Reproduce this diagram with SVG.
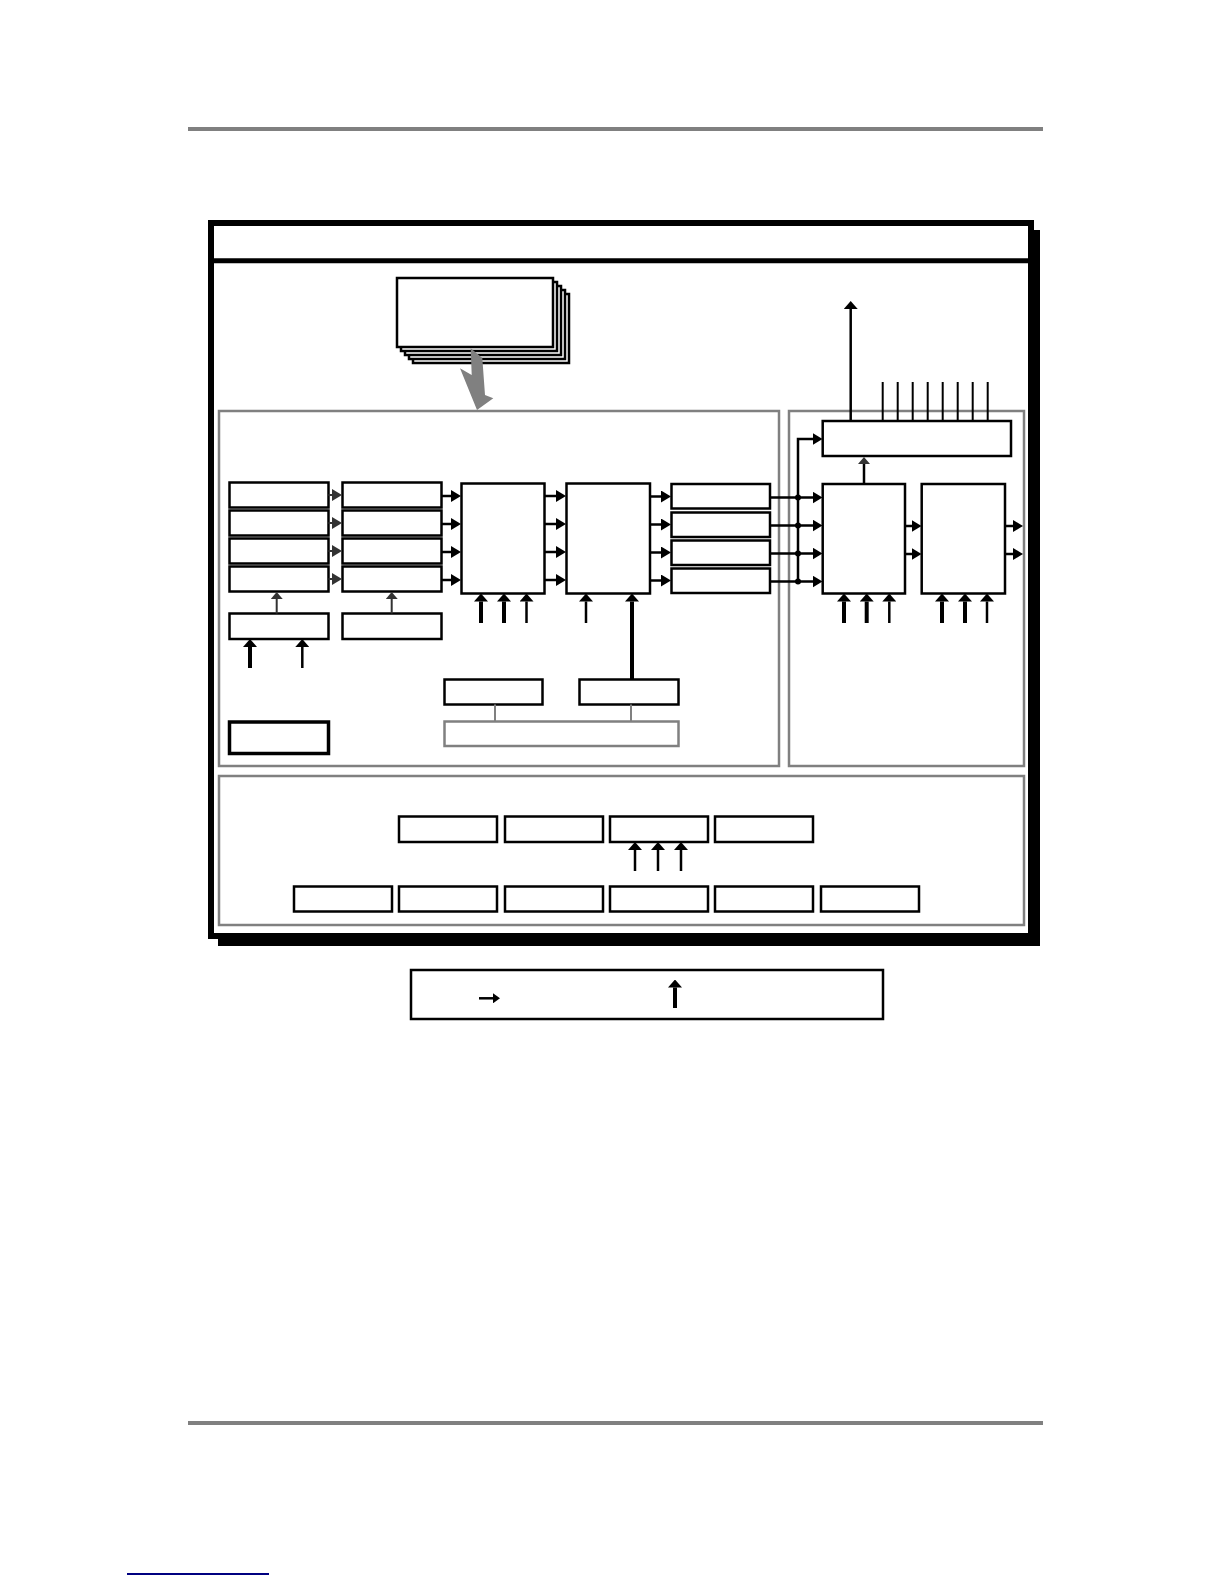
<svg xmlns="http://www.w3.org/2000/svg" width="1224" height="1584" viewBox="0 0 1224 1584">
<style>
.box{fill:#fff;stroke:#000;stroke-width:2.5}
.panel{fill:none;stroke:#808080;stroke-width:2.5}
.ln{fill:none;stroke:#000;stroke-width:2.5}
.lng{fill:none;stroke:#333;stroke-width:2}
.thk{fill:none;stroke:#000;stroke-width:4}
.gl{fill:none;stroke:#808080;stroke-width:2}
</style>
<defs>
<marker id="mh" viewBox="0 0 10 10" refX="1" refY="5" markerWidth="10" markerHeight="12" markerUnits="userSpaceOnUse" orient="auto" preserveAspectRatio="none"><path d="M0,0 L10,5 L0,10 Z" fill="#000"/></marker>
<marker id="mhg" viewBox="0 0 10 10" refX="1" refY="5" markerWidth="10" markerHeight="12" markerUnits="userSpaceOnUse" orient="auto" preserveAspectRatio="none"><path d="M0,0 L10,5 L0,10 Z" fill="#333"/></marker>
<marker id="mu" viewBox="0 0 10 10" refX="0" refY="5" markerWidth="8" markerHeight="14" markerUnits="userSpaceOnUse" orient="auto" preserveAspectRatio="none"><path d="M0,0 L10,5 L0,10 Z" fill="#000"/></marker>
<marker id="mus" viewBox="0 0 10 10" refX="0" refY="5" markerWidth="7" markerHeight="12" markerUnits="userSpaceOnUse" orient="auto" preserveAspectRatio="none"><path d="M0,0 L10,5 L0,10 Z" fill="#333"/></marker>
<marker id="ms" viewBox="0 0 10 10" refX="0" refY="5" markerWidth="7" markerHeight="10" markerUnits="userSpaceOnUse" orient="auto" preserveAspectRatio="none"><path d="M0,0 L10,5 L0,10 Z" fill="#000"/></marker>
</defs>
<rect width="1224" height="1584" fill="#fff"/>
<!-- page rules -->
<rect x="188" y="127" width="855" height="4" fill="#808080"/>
<rect x="188" y="1421" width="855" height="4" fill="#808080"/>
<rect x="127" y="1573" width="142" height="2" fill="#000080"/>
<!-- outer frame -->
<g id="frame">
<rect x="218" y="230" width="822" height="716" fill="#000"/>
<rect x="211" y="223" width="820" height="713" fill="#fff" stroke="#000" stroke-width="6"/>
<line x1="211" y1="260.8" x2="1031" y2="260.8" stroke="#000" stroke-width="5"/>
</g>
<!-- stacked cards -->
<g id="cards">
<rect class="box" x="413" y="294" width="156" height="69" stroke-width="2"/>
<rect class="box" x="409" y="290" width="156" height="69" stroke-width="2"/>
<rect class="box" x="405" y="286" width="156" height="69" stroke-width="2"/>
<rect class="box" x="401" y="282" width="156" height="69" stroke-width="2"/>
<rect class="box" x="397" y="278" width="156" height="69" stroke-width="2"/>
</g>
<g id="grey-arrow">
<polygon points="470.7,348.3 482.3,358 485,395 493.3,398.3 477,410 460,368.3 471.7,375" fill="#808080"/>
</g>
<!-- panels -->
<g id="panel-left"><rect class="panel" x="219" y="411" width="560" height="355"/></g>
<g id="panel-right"><rect class="panel" x="789" y="411" width="235" height="355"/></g>
<g id="panel-bottom"><rect class="panel" x="219" y="776" width="805" height="149"/></g>
<!-- left panel nodes -->
<g id="c1r1"><rect class="box" x="229.5" y="482.5" width="99" height="25"/></g>
<g id="c1r2"><rect class="box" x="229.5" y="510.5" width="99" height="25"/></g>
<g id="c1r3"><rect class="box" x="229.5" y="538.5" width="99" height="25"/></g>
<g id="c1r4"><rect class="box" x="229.5" y="566.5" width="99" height="25"/></g>
<g id="c2r1"><rect class="box" x="342.5" y="482.5" width="99" height="25"/></g>
<g id="c2r2"><rect class="box" x="342.5" y="510.5" width="99" height="25"/></g>
<g id="c2r3"><rect class="box" x="342.5" y="538.5" width="99" height="25"/></g>
<g id="c2r4"><rect class="box" x="342.5" y="566.5" width="99" height="25"/></g>
<g id="c1low"><rect class="box" x="229.5" y="613.5" width="99" height="25.5"/></g>
<g id="c2low"><rect class="box" x="342.5" y="613.5" width="99" height="25.5"/></g>
<g id="box1"><rect class="box" x="461.5" y="483.5" width="83" height="110"/></g>
<g id="box2"><rect class="box" x="566.5" y="483.5" width="83.5" height="110"/></g>
<g id="c3r1"><rect class="box" x="671.5" y="484" width="98.5" height="24.5"/></g>
<g id="c3r2"><rect class="box" x="671.5" y="512.5" width="98.5" height="24.5"/></g>
<g id="c3r3"><rect class="box" x="671.5" y="540.5" width="98.5" height="24.5"/></g>
<g id="c3r4"><rect class="box" x="671.5" y="568.5" width="98.5" height="24.5"/></g>
<g id="boxA"><rect class="box" x="444.5" y="679.5" width="98" height="25"/></g>
<g id="boxB"><rect class="box" x="579.5" y="679.5" width="99" height="25"/></g>
<g id="greybox"><rect x="444.5" y="721.5" width="234" height="24.5" fill="#fff" stroke="#808080" stroke-width="2.5"/></g>
<g id="thickbox"><rect x="229.5" y="722" width="99" height="31.5" fill="#fff" stroke="#000" stroke-width="3.5"/></g>
<!-- right panel nodes -->
<g id="topbox"><rect class="box" x="822.7" y="421" width="188.3" height="35"/></g>
<g id="box3"><rect class="box" x="822.7" y="484" width="82.3" height="109.5"/></g>
<g id="box4"><rect class="box" x="921.7" y="484" width="83.3" height="109.5"/></g>
<!-- bottom panel nodes -->
<g id="b1"><rect class="box" x="399" y="816.5" width="98" height="25.5"/></g>
<g id="b2"><rect class="box" x="505" y="816.5" width="98" height="25.5"/></g>
<g id="b3"><rect class="box" x="610" y="816.5" width="98" height="25.5"/></g>
<g id="b4"><rect class="box" x="715" y="816.5" width="98" height="25.5"/></g>
<g id="d1"><rect class="box" x="294" y="886.5" width="98" height="25"/></g>
<g id="d2"><rect class="box" x="399" y="886.5" width="98" height="25"/></g>
<g id="d3"><rect class="box" x="505" y="886.5" width="98" height="25"/></g>
<g id="d4"><rect class="box" x="610" y="886.5" width="98" height="25"/></g>
<g id="d5"><rect class="box" x="715" y="886.5" width="98" height="25"/></g>
<g id="d6"><rect class="box" x="821" y="886.5" width="98" height="25"/></g>
<!-- legend -->
<g id="legend"><rect class="box" x="411" y="970" width="472" height="49"/></g>
<!-- connectors -->
<g id="connectors">
<line class="lng" x1="328.5" y1="495" x2="333" y2="495" marker-end="url(#mhg)"/>
<line class="lng" x1="328.5" y1="523" x2="333" y2="523" marker-end="url(#mhg)"/>
<line class="lng" x1="328.5" y1="551" x2="333" y2="551" marker-end="url(#mhg)"/>
<line class="lng" x1="328.5" y1="579" x2="333" y2="579" marker-end="url(#mhg)"/>
<line class="ln" x1="441.5" y1="496" x2="452" y2="496" marker-end="url(#mh)"/>
<line class="ln" x1="441.5" y1="524" x2="452" y2="524" marker-end="url(#mh)"/>
<line class="ln" x1="441.5" y1="552" x2="452" y2="552" marker-end="url(#mh)"/>
<line class="ln" x1="441.5" y1="580" x2="452" y2="580" marker-end="url(#mh)"/>
<line class="ln" x1="544.5" y1="496" x2="557" y2="496" marker-end="url(#mh)"/>
<line class="ln" x1="544.5" y1="524" x2="557" y2="524" marker-end="url(#mh)"/>
<line class="ln" x1="544.5" y1="552" x2="557" y2="552" marker-end="url(#mh)"/>
<line class="ln" x1="544.5" y1="580" x2="557" y2="580" marker-end="url(#mh)"/>
<line class="ln" x1="650" y1="496.5" x2="662" y2="496.5" marker-end="url(#mh)"/>
<line class="ln" x1="650" y1="524.5" x2="662" y2="524.5" marker-end="url(#mh)"/>
<line class="ln" x1="650" y1="552.5" x2="662" y2="552.5" marker-end="url(#mh)"/>
<line class="ln" x1="650" y1="580.5" x2="662" y2="580.5" marker-end="url(#mh)"/>
<line class="ln" x1="770" y1="497.5" x2="813.5" y2="497.5" marker-end="url(#mh)"/>
<line class="ln" x1="770" y1="525.5" x2="813.5" y2="525.5" marker-end="url(#mh)"/>
<line class="ln" x1="770" y1="553.5" x2="813.5" y2="553.5" marker-end="url(#mh)"/>
<line class="ln" x1="770" y1="581.5" x2="813.5" y2="581.5" marker-end="url(#mh)"/>
<path class="ln" d="M798,581.5 V439 H813.5" marker-end="url(#mh)"/>
<circle cx="798" cy="497.5" r="3"/>
<circle cx="798" cy="525.5" r="3"/>
<circle cx="798" cy="553.5" r="3"/>
<circle cx="798" cy="581.5" r="3"/>
<line class="ln" x1="864" y1="484" x2="864" y2="464" marker-end="url(#mus)"/>
<line class="ln" x1="905" y1="526" x2="912.5" y2="526" marker-end="url(#mh)"/>
<line class="ln" x1="905" y1="554" x2="912.5" y2="554" marker-end="url(#mh)"/>
<line class="ln" x1="1005" y1="526" x2="1014" y2="526" marker-end="url(#mh)"/>
<line class="ln" x1="1005" y1="554" x2="1014" y2="554" marker-end="url(#mh)"/>
<line class="ln" x1="850.7" y1="421" x2="850.7" y2="309" marker-end="url(#mu)"/>
<g fill="none" stroke="#000" stroke-width="2">
<line x1="882.7" y1="382" x2="882.7" y2="421"/>
<line x1="897.7" y1="382" x2="897.7" y2="421"/>
<line x1="912.7" y1="382" x2="912.7" y2="421"/>
<line x1="927.7" y1="382" x2="927.7" y2="421"/>
<line x1="942.7" y1="382" x2="942.7" y2="421"/>
<line x1="957.7" y1="382" x2="957.7" y2="421"/>
<line x1="972.7" y1="382" x2="972.7" y2="421"/>
<line x1="987.7" y1="382" x2="987.7" y2="421"/>
</g>
<line class="thk" x1="481" y1="623" x2="481" y2="601.5" marker-end="url(#mu)"/>
<line class="thk" x1="504" y1="623" x2="504" y2="601.5" marker-end="url(#mu)"/>
<line class="ln" x1="526.5" y1="623" x2="526.5" y2="601.5" marker-end="url(#mu)"/>
<line class="ln" x1="586" y1="623" x2="586" y2="601.5" marker-end="url(#mu)"/>
<line class="thk" x1="632" y1="679.5" x2="632" y2="601.5" marker-end="url(#mu)"/>
<line class="thk" x1="844" y1="623" x2="844" y2="601.5" marker-end="url(#mu)"/>
<line class="thk" x1="866.7" y1="623" x2="866.7" y2="601.5" marker-end="url(#mu)"/>
<line class="ln" x1="889.3" y1="623" x2="889.3" y2="601.5" marker-end="url(#mu)"/>
<line class="thk" x1="942" y1="623" x2="942" y2="601.5" marker-end="url(#mu)"/>
<line class="thk" x1="965" y1="623" x2="965" y2="601.5" marker-end="url(#mu)"/>
<line class="ln" x1="987" y1="623" x2="987" y2="601.5" marker-end="url(#mu)"/>
<line class="lng" x1="276.7" y1="613.5" x2="276.7" y2="599" marker-end="url(#mus)"/>
<line class="lng" x1="391.7" y1="613.5" x2="391.7" y2="599" marker-end="url(#mus)"/>
<line class="thk" x1="250" y1="668" x2="250" y2="647" marker-end="url(#mu)"/>
<line class="ln" x1="302.3" y1="668" x2="302.3" y2="647" marker-end="url(#mu)"/>
<line class="gl" x1="495" y1="704.5" x2="495" y2="721.5"/>
<line class="gl" x1="631" y1="704.5" x2="631" y2="721.5"/>
<line class="ln" stroke-width="3" x1="635" y1="871" x2="635" y2="850" marker-end="url(#mu)"/>
<line class="ln" stroke-width="3" x1="658" y1="871" x2="658" y2="850" marker-end="url(#mu)"/>
<line class="ln" stroke-width="3" x1="681" y1="871" x2="681" y2="850" marker-end="url(#mu)"/>
<line class="ln" stroke-width="2" x1="479" y1="998.3" x2="493" y2="998.3" marker-end="url(#ms)"/>
<line class="thk" x1="675" y1="1008" x2="675" y2="987.5" marker-end="url(#mu)"/>
</g>
</svg>
